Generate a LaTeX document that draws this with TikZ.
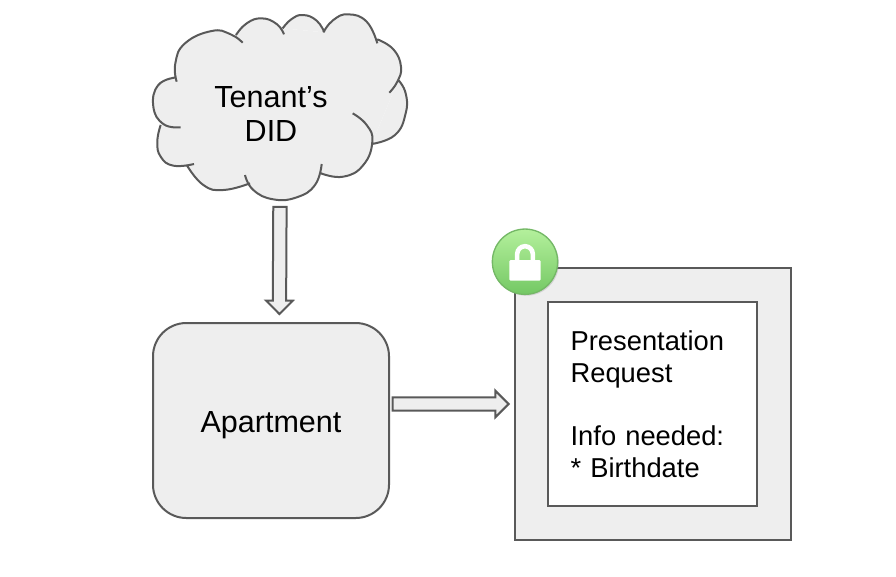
\documentclass[tikz,border=0pt]{standalone}
\usepackage{fontspec}
\setmainfont{Liberation Sans}
\usetikzlibrary{calc, shadows}
\definecolor{boxgrey}{HTML}{EEEEEE}
\definecolor{linegrey}{HTML}{595959}
\definecolor{locklight}{HTML}{B4F09C}
\definecolor{lockdark}{HTML}{74C864}
\definecolor{lockedge}{HTML}{74B866}
\tikzstyle{boxline} = [draw=linegrey, line width=1.5pt, fill=boxgrey]
\tikzstyle{cloudtext} = [minimum width=120pt, minimum height=129pt, inner sep=0pt, align=center, font=\fontsize{22.9}{25.8}\selectfont]
\tikzstyle{apartmentclass} = [rectangle, rounded corners=25pt, boxline, minimum width=177pt, minimum height=146.25pt, text height=18.4pt, text depth=0pt, font=\fontsize{22.9}{25.8}\selectfont]
\tikzstyle{frameclass} = [rectangle, boxline, minimum width=207pt, minimum height=204pt]
\tikzstyle{requestclass} = [rectangle, draw=linegrey, line width=1.5pt, fill=white, minimum width=156.75pt, minimum height=153pt, text width=123.5pt, inner sep=0pt, align=left, font=\fontsize{20.5}{23.8}\selectfont]
\tikzstyle{lockclass} = [circle, draw=lockedge, line width=1pt, top color=locklight, bottom color=lockdark, minimum size=49pt, inner sep=0pt, drop shadow={opacity=0.25, shadow xshift=1pt, shadow yshift=-1pt}]
\tikzstyle{arrow} = [boxline, to path={
	($(\tikztostart)!5pt!90:(\tikztotarget)$)
	-- ($($(\tikztotarget)!10pt!(\tikztostart)$)!5pt!-90:(\tikztostart)$)
	-- ($($(\tikztotarget)!10pt!(\tikztostart)$)!10pt!-90:(\tikztostart)$)
	-- (\tikztotarget)
	-- ($($(\tikztotarget)!10pt!(\tikztostart)$)!10pt!90:(\tikztostart)$)
	-- ($($(\tikztotarget)!10pt!(\tikztostart)$)!5pt!90:(\tikztostart)$)
	-- ($(\tikztostart)!5pt!-90:(\tikztotarget)$)
	-- cycle}]
% one stroke per puff
\newcommand{\cloudpuffs}{
	plot[smooth, tension=0.8] coordinates {(110,245) (106,190) (135,130) (215,93) (270,102) (308,128)}
	plot[smooth, tension=0.8] coordinates {(288,105) (320,70) (365,55) (410,72) (432,103)}
	plot[smooth, tension=0.8] coordinates {(428,85) (455,57) (490,45) (530,62) (553,97)}
	plot[smooth, tension=0.8] coordinates {(550,97) (580,60) (625,43) (680,65) (712,130)}
	plot[smooth, tension=0.8] coordinates {(712,118) (760,148) (783,200) (772,245) (748,278)}
	plot[smooth, tension=0.8] coordinates {(775,240) (797,280) (797,340) (765,405) (695,432)}
	plot[smooth, tension=0.8] coordinates {(638,340) (680,375) (697,425) (670,495) (610,530) (543,520)}
	plot[smooth, tension=0.8] coordinates {(545,492) (525,555) (470,592) (400,598) (340,570) (315,525)}
	plot[smooth, tension=0.8] coordinates {(330,550) (250,570) (190,555) (140,495)}
	plot[smooth, tension=0.8] coordinates {(162,492) (100,497) (62,470) (52,425) (62,375)}
	plot[smooth, tension=0.8] coordinates {(122,382) (70,372) (40,320) (55,255) (110,232)}
}

\begin{document}
\begin{tikzpicture}[x=0.75pt, y=-0.75pt]
		\useasboundingbox (0,0) rectangle (896,576);
		\begin{scope}[shift={(140,0)}, x=0.25pt, y=-0.25pt]
			\fill[boxgrey] (110,232) -- (288,105) -- (430,85) -- (552,97) -- (712,118) -- (775,240) -- (695,432) -- (545,520) -- (330,550) -- (250,560) -- (145,495) -- (60,375) -- cycle;
			\fill[boxgrey] \cloudpuffs;
			\draw[linegrey, line width=1.5pt] \cloudpuffs;
		\end{scope}
		\node (apartment) [apartmentclass] at (271,420.5) {Apartment};
		\node (tenant) [cloudtext, above of=apartment, yshift=201.5pt] {Tenant’s\\DID};
		\node (frame) [frameclass, right of=apartment, xshift=258pt, yshift=12.4pt] {};
		\node (request) [requestclass] at (frame.center) {Presentation\\Request\\[23.8pt]Info needed:\\{*} Birthdate};
		\node (lockbadge) [lockclass] at (525,261.7) {};
		% padlock on the badge
		\fill[white, rounded corners=1pt] (509.3,260) rectangle (540.7,280.7);
		\draw[white, line width=3.4pt] (517.2,261) -- (517.2,254) arc[start angle=180, end angle=0, radius=5.85pt] -- (532.8,261);
		\draw[arrow] ([xshift=6.7pt, yshift=-5pt]tenant.south) to ([xshift=6.3pt, yshift=6pt]apartment.north);
		\draw[arrow] ([xshift=2pt, yshift=12.4pt]apartment.east) to ([xshift=-4pt]frame.west);
\end{tikzpicture}
\end{document}
